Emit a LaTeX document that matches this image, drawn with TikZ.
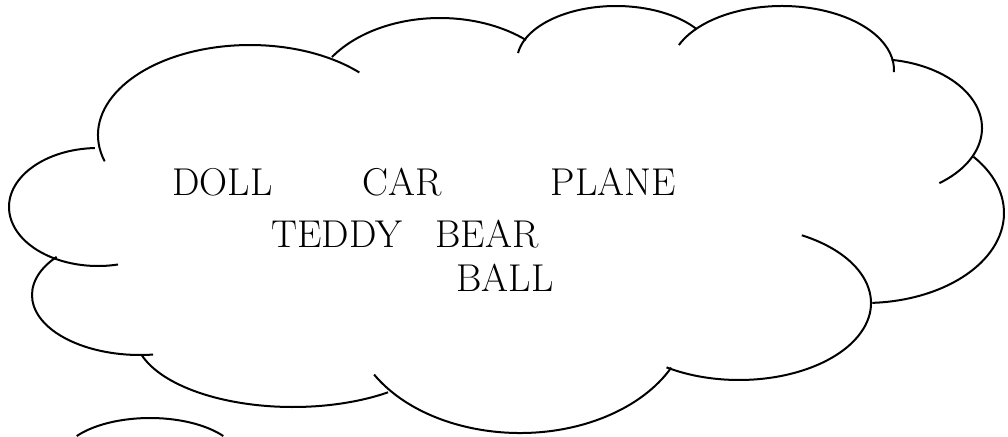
\documentclass[tikz,border=0pt]{standalone}
\begin{document}
\begin{tikzpicture}[x=0.5pt,y=0.5pt,
  cloudline/.style={draw=black,line width=1pt},
  word/.style={anchor=base west,inner sep=0pt,font=\fontsize{19.4}{22}\selectfont}]
\useasboundingbox (0,0) rectangle (1008,436);
% cloud lobes: centre x, centre y, x radius, y radius, start, end
\newcommand\lobe[6]{\draw[cloudline] (#1,#2) ++(#5:#3 and #4) arc[start angle=#5,end angle=#6,x radius=#3,y radius=#4];}
\lobe{250}{301}{152}{90}{197}{44}
\lobe{440}{330}{130}{88}{146.2}{48.6}
\lobe{616}{375}{99}{55}{171.7}{35.4}
\lobe{782}{366}{112}{64}{157}{-2}
\lobe{875}{308}{107}{69}{81}{-53}
\lobe{865}{223}{139}{90}{38.7}{-87}
\lobe{739}{133}{132}{77}{61.6}{-123.3}
\lobe{520}{121}{169}{118}{210.3}{333.5}
\lobe{293}{102}{158}{73}{196.9}{307}
\lobe{140}{141}{108}{60}{140.5}{277}
\lobe{98}{229}{89}{59}{92}{283}
% tail bubble
\lobe{150}{-25}{90}{43}{144.5}{35.5}
% texts
\node[word] (doll) at (172,241) {DOLL};
\node[word] (car) at (362,241) {CAR};
\node[word] (plane) at (550.5,241) {PLANE};
\node[word] (teddy) at (271,189) {TEDDY};
\node[word] (bear) at (435,189) {BEAR};
\node[word] (ball) at (456,145) {BALL};
\end{tikzpicture}
\end{document}
